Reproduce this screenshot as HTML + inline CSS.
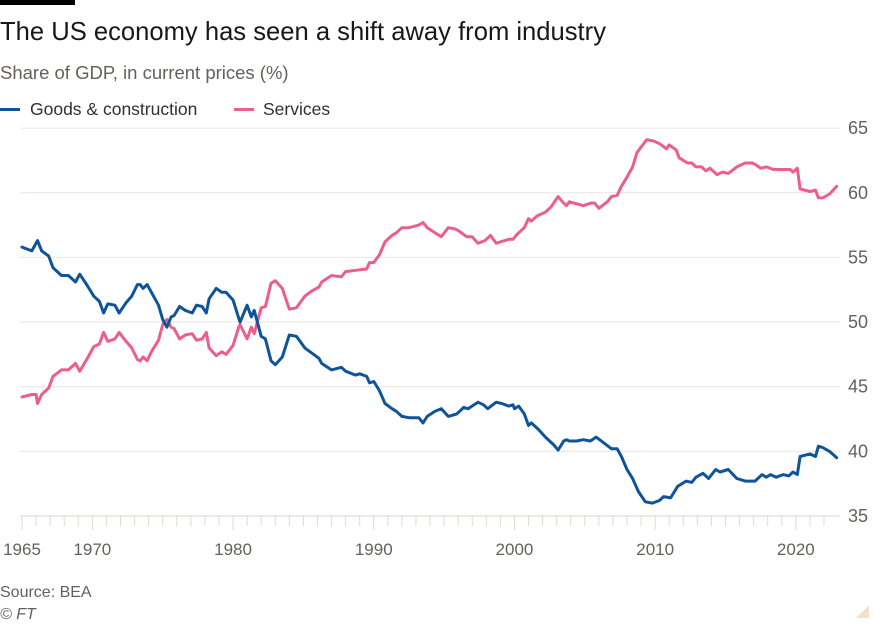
<!DOCTYPE html>
<html><head><meta charset="utf-8">
<style>
html,body{margin:0;padding:0;background:#fff;}
body{width:875px;height:625px;position:relative;overflow:hidden;font-family:"Liberation Sans",sans-serif;}
.t{position:absolute;white-space:nowrap;}
</style></head>
<body>
<div style="position:absolute;left:0;top:0;width:75px;height:5px;background:#000;"></div>
<div class="t" style="left:0;top:18px;font-size:25.6px;color:#1a1817;">The US economy has seen a shift away from industry</div>
<div class="t" style="left:0;top:62px;font-size:18.5px;color:#66605c;">Share of GDP, in current prices (%)</div>
<div>
 <div style="position:absolute;left:0;top:108px;width:20px;height:3px;background:#0f5499;"></div>
 <div class="t" style="left:30px;top:99px;font-size:17.5px;color:#33302e;">Goods &amp; construction</div>
 <div style="position:absolute;left:234px;top:108px;width:20px;height:3px;background:#eb5e8d;"></div>
 <div class="t" style="left:263px;top:99px;font-size:17.5px;color:#33302e;">Services</div>
</div>
<svg id="chart" width="875" height="625" style="position:absolute;left:0;top:0;"></svg>
<div class="t" style="left:0;top:584px;font-size:16px;color:#66605c;">Source: BEA</div>
<div class="t" style="left:0;top:606px;font-size:16px;color:#66605c;font-style:italic;">© FT</div>
<script>
const yTicks=[35,40,45,50,55,60,65];
const xTickLabels=[1965,1970,1980,1990,2000,2010,2020];
const goodsYears=[1965.0,1965.7,1966.1,1966.4,1966.9,1967.2,1967.8,1968.3,1968.8,1969.1,1969.6,1970.1,1970.5,1970.8,1971.1,1971.6,1971.9,1972.4,1972.8,1973.2,1973.4,1973.6,1973.9,1974.2,1974.7,1975.0,1975.3,1975.6,1975.8,1976.2,1976.6,1977.1,1977.4,1977.8,1978.1,1978.3,1978.8,1979.2,1979.5,1980.0,1980.4,1980.5,1981.0,1981.3,1981.5,1982.0,1982.3,1982.7,1983.0,1983.5,1984.0,1984.5,1985.1,1985.6,1986.1,1986.3,1987.0,1987.7,1988.0,1988.7,1989.0,1989.5,1989.7,1990.0,1990.4,1990.8,1991.3,1991.6,1992.0,1992.5,1993.2,1993.5,1993.8,1994.35,1994.8,1995.3,1995.9,1996.4,1996.7,1997.4,1997.8,1998.1,1998.7,1999.1,1999.6,1999.9,2000.0,2000.3,2000.7,2001.0,2001.2,2001.7,2002.2,2002.8,2003.1,2003.5,2003.7,2003.9,2004.4,2004.9,2005.4,2005.8,2006.3,2006.9,2007.3,2007.6,2008.0,2008.4,2008.8,2009.3,2009.8,2010.3,2010.6,2011.1,2011.6,2012.2,2012.6,2012.9,2013.4,2013.8,2014.3,2014.6,2015.2,2015.8,2016.4,2017.1,2017.6,2017.9,2018.2,2018.6,2019.1,2019.5,2019.8,2020.1,2020.3,2021.0,2021.4,2021.6,2021.9,2022.4,2022.9];
const goodsValues=[55.8,55.5,56.3,55.5,55.1,54.2,53.6,53.6,53.1,53.7,52.9,52.0,51.6,50.7,51.4,51.3,50.7,51.5,52.0,52.9,52.9,52.6,52.9,52.3,51.3,50.2,49.6,50.4,50.5,51.2,50.9,50.7,51.3,51.2,50.7,51.8,52.6,52.3,52.3,51.7,50.3,50.0,51.3,50.4,50.9,48.9,48.7,47.0,46.7,47.3,49.0,48.9,48.0,47.6,47.2,46.8,46.3,46.5,46.2,45.9,46.0,45.8,45.3,45.4,44.7,43.7,43.3,43.1,42.7,42.6,42.6,42.2,42.7,43.1,43.3,42.7,42.9,43.4,43.3,43.8,43.6,43.3,43.8,43.7,43.5,43.6,43.3,43.5,42.9,42.0,42.2,41.7,41.1,40.5,40.1,40.8,40.9,40.8,40.8,40.9,40.8,41.1,40.7,40.2,40.2,39.6,38.6,37.9,36.9,36.1,36.0,36.2,36.5,36.4,37.3,37.7,37.6,38.0,38.3,37.9,38.6,38.4,38.6,37.9,37.7,37.7,38.2,38.0,38.2,38.0,38.2,38.1,38.4,38.2,39.6,39.8,39.6,40.4,40.3,40.0,39.5];
const servicesYears=[1965.0,1965.7,1966.0,1966.1,1966.4,1966.9,1967.2,1967.8,1968.3,1968.8,1969.1,1969.6,1970.1,1970.5,1970.8,1971.1,1971.6,1971.9,1972.4,1972.8,1973.2,1973.4,1973.6,1973.9,1974.2,1974.7,1975.0,1975.3,1975.6,1975.8,1976.2,1976.6,1977.1,1977.4,1977.8,1978.1,1978.3,1978.8,1979.2,1979.5,1980.0,1980.4,1980.5,1981.0,1981.3,1981.5,1982.0,1982.3,1982.7,1983.0,1983.5,1984.0,1984.5,1985.1,1985.6,1986.1,1986.3,1987.0,1987.7,1988.0,1988.7,1989.5,1989.7,1990.0,1990.4,1990.8,1991.3,1991.6,1992.0,1992.5,1993.2,1993.5,1993.8,1994.35,1994.8,1995.3,1995.8,1996.1,1996.6,1997.0,1997.4,1997.9,1998.3,1998.7,1999.6,1999.9,2000.2,2000.7,2001.0,2001.2,2001.6,2002.2,2002.6,2003.1,2003.5,2003.7,2003.9,2004.9,2005.4,2005.7,2006.0,2006.6,2006.9,2007.3,2007.6,2008.0,2008.4,2008.7,2009.4,2009.9,2010.3,2010.8,2011.0,2011.5,2011.7,2012.3,2012.6,2012.9,2013.3,2013.6,2013.9,2014.4,2014.8,2015.2,2015.8,2016.4,2016.9,2017.1,2017.5,2017.9,2018.4,2018.8,2019.2,2019.6,2019.8,2020.1,2020.3,2021.0,2021.4,2021.6,2021.9,2022.4,2022.9];
const servicesValues=[44.2,44.4,44.4,43.7,44.4,44.9,45.8,46.3,46.3,46.8,46.2,47.1,48.1,48.3,49.2,48.5,48.7,49.2,48.5,48.0,47.1,47.0,47.3,47.0,47.7,48.6,49.8,50.2,49.6,49.5,48.7,49.0,49.1,48.6,48.7,49.2,48.0,47.4,47.7,47.5,48.2,49.6,49.8,48.7,49.6,49.1,51.1,51.2,53.0,53.2,52.6,51.0,51.1,52.0,52.4,52.7,53.1,53.6,53.5,53.9,54.0,54.1,54.6,54.6,55.2,56.2,56.7,56.9,57.3,57.3,57.5,57.7,57.3,56.9,56.6,57.3,57.2,57.0,56.6,56.6,56.1,56.3,56.7,56.1,56.4,56.4,56.8,57.3,58.0,57.8,58.2,58.5,58.9,59.7,59.2,59.0,59.3,59.0,59.2,59.2,58.8,59.3,59.7,59.8,60.5,61.2,62.0,63.1,64.1,64.0,63.8,63.4,63.7,63.3,62.7,62.3,62.3,62.0,62.0,61.7,61.9,61.4,61.6,61.5,62.0,62.3,62.3,62.2,61.9,62.0,61.8,61.8,61.8,61.8,61.6,61.9,60.3,60.1,60.2,59.6,59.6,59.9,60.5];

const NS='http://www.w3.org/2000/svg';
const svg=document.getElementById('chart');
const X0=22, PXY=14.07, Y0=516, PXV=12.93, RIGHT=840;
function xs(yr){return X0+(yr-1965)*PXY;}
function ys(v){return Y0-(v-35)*PXV;}
function mk(tag,attrs){const e=document.createElementNS(NS,tag);for(const k in attrs)e.setAttribute(k,attrs[k]);svg.appendChild(e);return e;}

yTicks.forEach(v=>{
  const g=mk('line',{x1:20,x2:RIGHT,y1:ys(v),y2:ys(v),stroke:v===35?'#d9d2ca':'#ece6e0','stroke-width':1});
  
  
  const t=mk('text',{x:848,y:ys(v)+6,'font-size':18,fill:'#66605c','font-family':'Liberation Sans, sans-serif'});
  t.textContent=v;
  
  
});
for(let yr=1965;yr<=2022;yr++){
  const major=xTickLabels.includes(yr);
  const tk=mk('line',{x1:xs(yr),x2:xs(yr),y1:Y0,y2:Y0+(major?14:10),stroke:'#e0d9d1','stroke-width':1});
  
  
}
xTickLabels.forEach(yr=>{
  const t=mk('text',{x:xs(yr),y:555,'font-size':17,fill:'#66605c','text-anchor':'middle','font-family':'Liberation Sans, sans-serif'});
  t.textContent=yr;
  
  
});
function line(years,vals,color,name){
  const d=years.map((y,i)=>(i?'L':'M')+xs(y).toFixed(1)+','+ys(vals[i]).toFixed(1)).join('');
  const p=mk('path',{d:d,fill:'none',stroke:color,'stroke-width':3,'stroke-linejoin':'round','stroke-linecap':'round'});
  
  
}
line(servicesYears,servicesValues,'#eb5e8d','services-line');
line(goodsYears,goodsValues,'#0f5499','goods-construction-line');
const corner=mk('path',{d:'M856,618 L869,605 L869,618 Z',fill:'#f2dfce'});


</script>
</body></html>
